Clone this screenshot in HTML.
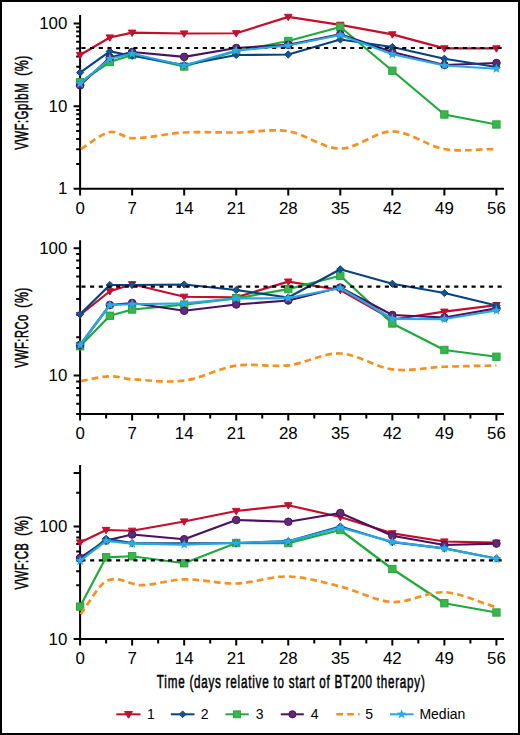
<!DOCTYPE html><html><head><meta charset="utf-8"><style>html,body{margin:0;padding:0;background:#fff}svg{display:block}text{font-family:"Liberation Sans",sans-serif}</style></head><body>
<svg width="520" height="735" viewBox="0 0 520 735">
<rect x="0" y="0" width="520" height="735" fill="#fff"/>
<path d="M80.1,15.00 V195.40 M80.10,188.80 H504" stroke="#000" stroke-width="2" fill="none"/>
<path d="M73.6,188.80H80.1M73.6,106.15H80.1M73.6,23.50H80.1M76.2,163.92H80.1M76.2,149.37H80.1M76.2,139.04H80.1M76.2,131.03H80.1M76.2,124.49H80.1M76.2,118.95H80.1M76.2,114.16H80.1M76.2,109.93H80.1M76.2,81.27H80.1M76.2,66.72H80.1M76.2,56.39H80.1M76.2,48.38H80.1M76.2,41.84H80.1M76.2,36.30H80.1M76.2,31.51H80.1M76.2,27.28H80.1M132.14,188.80V195.40M184.18,188.80V195.40M236.22,188.80V195.40M288.26,188.80V195.40M340.30,188.80V195.40M392.34,188.80V195.40M444.38,188.80V195.40M496.42,188.80V195.40" stroke="#000" stroke-width="2" fill="none"/>
<text transform="translate(67.3 194.40) scale(0.2700 0.2500)" font-size="62.4" text-anchor="end">1</text>
<text transform="translate(67.3 111.75) scale(0.2700 0.2500)" font-size="62.4" text-anchor="end">10</text>
<text transform="translate(67.3 29.10) scale(0.2700 0.2500)" font-size="62.4" text-anchor="end">100</text>
<text transform="translate(80.10 214.10) scale(0.2700 0.2500)" font-size="62.4" text-anchor="middle">0</text>
<text transform="translate(132.14 214.10) scale(0.2700 0.2500)" font-size="62.4" text-anchor="middle">7</text>
<text transform="translate(184.18 214.10) scale(0.2700 0.2500)" font-size="62.4" text-anchor="middle">14</text>
<text transform="translate(236.22 214.10) scale(0.2700 0.2500)" font-size="62.4" text-anchor="middle">21</text>
<text transform="translate(288.26 214.10) scale(0.2700 0.2500)" font-size="62.4" text-anchor="middle">28</text>
<text transform="translate(340.30 214.10) scale(0.2700 0.2500)" font-size="62.4" text-anchor="middle">35</text>
<text transform="translate(392.34 214.10) scale(0.2700 0.2500)" font-size="62.4" text-anchor="middle">42</text>
<text transform="translate(444.38 214.10) scale(0.2700 0.2500)" font-size="62.4" text-anchor="middle">49</text>
<text transform="translate(496.42 214.10) scale(0.2700 0.2500)" font-size="62.4" text-anchor="middle">56</text>
<text transform="translate(28.20 149.80) rotate(-90)" font-size="18.5" letter-spacing="0.8" textLength="66.90" lengthAdjust="spacingAndGlyphs" stroke="#000" stroke-width="0.55">VWF:GpIbM</text>
<text transform="translate(28.20 75.80) rotate(-90)" font-size="18.5" letter-spacing="0.8" textLength="20.60" lengthAdjust="spacingAndGlyphs" stroke="#000" stroke-width="0.55">(%)</text>
<polyline points="80.10,55.00 109.84,37.50 132.14,32.70 184.18,33.50 236.22,33.25 288.26,16.90 340.30,24.80 392.34,34.40 444.38,48.40 496.42,48.40" stroke="#C50C2B" stroke-width="2.2" fill="none" stroke-linejoin="round"/>
<path d="M76.36,52.40 L83.83,52.40 L80.10,58.77 Z" fill="#C8102E" stroke="#C50C2B" stroke-width="1.00" stroke-linejoin="miter"/>
<path d="M106.10,34.90 L113.57,34.90 L109.84,41.27 Z" fill="#C8102E" stroke="#C50C2B" stroke-width="1.00" stroke-linejoin="miter"/>
<path d="M128.40,30.10 L135.88,30.10 L132.14,36.47 Z" fill="#C8102E" stroke="#C50C2B" stroke-width="1.00" stroke-linejoin="miter"/>
<path d="M180.44,30.90 L187.92,30.90 L184.18,37.27 Z" fill="#C8102E" stroke="#C50C2B" stroke-width="1.00" stroke-linejoin="miter"/>
<path d="M232.48,30.65 L239.96,30.65 L236.22,37.02 Z" fill="#C8102E" stroke="#C50C2B" stroke-width="1.00" stroke-linejoin="miter"/>
<path d="M284.52,14.30 L292.00,14.30 L288.26,20.67 Z" fill="#C8102E" stroke="#C50C2B" stroke-width="1.00" stroke-linejoin="miter"/>
<path d="M336.56,22.20 L344.03,22.20 L340.30,28.57 Z" fill="#C8102E" stroke="#C50C2B" stroke-width="1.00" stroke-linejoin="miter"/>
<path d="M388.61,31.80 L396.08,31.80 L392.34,38.17 Z" fill="#C8102E" stroke="#C50C2B" stroke-width="1.00" stroke-linejoin="miter"/>
<path d="M440.64,45.80 L448.12,45.80 L444.38,52.17 Z" fill="#C8102E" stroke="#C50C2B" stroke-width="1.00" stroke-linejoin="miter"/>
<path d="M492.68,45.80 L500.15,45.80 L496.42,52.17 Z" fill="#C8102E" stroke="#C50C2B" stroke-width="1.00" stroke-linejoin="miter"/>
<polyline points="80.10,82.30 109.84,62.00 132.14,55.00 184.18,66.50 236.22,51.25 288.26,41.00 340.30,27.00 392.34,70.75 444.38,114.50 496.42,124.50" stroke="#1EAA3B" stroke-width="2.2" fill="none" stroke-linejoin="round"/>
<rect x="76.45" y="78.65" width="7.30" height="7.30" fill="#3DB34D" stroke="#1EAA3B" stroke-width="1.00" stroke-linejoin="miter"/>
<rect x="106.19" y="58.35" width="7.30" height="7.30" fill="#3DB34D" stroke="#1EAA3B" stroke-width="1.00" stroke-linejoin="miter"/>
<rect x="128.49" y="51.35" width="7.30" height="7.30" fill="#3DB34D" stroke="#1EAA3B" stroke-width="1.00" stroke-linejoin="miter"/>
<rect x="180.53" y="62.85" width="7.30" height="7.30" fill="#3DB34D" stroke="#1EAA3B" stroke-width="1.00" stroke-linejoin="miter"/>
<rect x="232.57" y="47.60" width="7.30" height="7.30" fill="#3DB34D" stroke="#1EAA3B" stroke-width="1.00" stroke-linejoin="miter"/>
<rect x="284.61" y="37.35" width="7.30" height="7.30" fill="#3DB34D" stroke="#1EAA3B" stroke-width="1.00" stroke-linejoin="miter"/>
<rect x="336.65" y="23.35" width="7.30" height="7.30" fill="#3DB34D" stroke="#1EAA3B" stroke-width="1.00" stroke-linejoin="miter"/>
<rect x="388.69" y="67.10" width="7.30" height="7.30" fill="#3DB34D" stroke="#1EAA3B" stroke-width="1.00" stroke-linejoin="miter"/>
<rect x="440.73" y="110.85" width="7.30" height="7.30" fill="#3DB34D" stroke="#1EAA3B" stroke-width="1.00" stroke-linejoin="miter"/>
<rect x="492.77" y="120.85" width="7.30" height="7.30" fill="#3DB34D" stroke="#1EAA3B" stroke-width="1.00" stroke-linejoin="miter"/>
<polyline points="80.10,85.30 109.84,57.50 132.14,52.00 184.18,56.90 236.22,48.00 288.26,44.80 340.30,34.25 392.34,52.00 444.38,65.00 496.42,63.00" stroke="#4C1061" stroke-width="2.2" fill="none" stroke-linejoin="round"/>
<circle cx="80.10" cy="85.30" r="3.80" fill="#5E2B74" stroke="#4C1061" stroke-width="1.00" stroke-linejoin="miter"/>
<circle cx="109.84" cy="57.50" r="3.80" fill="#5E2B74" stroke="#4C1061" stroke-width="1.00" stroke-linejoin="miter"/>
<circle cx="132.14" cy="52.00" r="3.80" fill="#5E2B74" stroke="#4C1061" stroke-width="1.00" stroke-linejoin="miter"/>
<circle cx="184.18" cy="56.90" r="3.80" fill="#5E2B74" stroke="#4C1061" stroke-width="1.00" stroke-linejoin="miter"/>
<circle cx="236.22" cy="48.00" r="3.80" fill="#5E2B74" stroke="#4C1061" stroke-width="1.00" stroke-linejoin="miter"/>
<circle cx="288.26" cy="44.80" r="3.80" fill="#5E2B74" stroke="#4C1061" stroke-width="1.00" stroke-linejoin="miter"/>
<circle cx="340.30" cy="34.25" r="3.80" fill="#5E2B74" stroke="#4C1061" stroke-width="1.00" stroke-linejoin="miter"/>
<circle cx="392.34" cy="52.00" r="3.80" fill="#5E2B74" stroke="#4C1061" stroke-width="1.00" stroke-linejoin="miter"/>
<circle cx="444.38" cy="65.00" r="3.80" fill="#5E2B74" stroke="#4C1061" stroke-width="1.00" stroke-linejoin="miter"/>
<circle cx="496.42" cy="63.00" r="3.80" fill="#5E2B74" stroke="#4C1061" stroke-width="1.00" stroke-linejoin="miter"/>
<polyline points="80.10,72.60 109.84,51.40 132.14,55.75 184.18,65.00 236.22,55.00 288.26,54.50 340.30,39.50 392.34,47.00 444.38,58.75 496.42,67.00" stroke="#06437F" stroke-width="2.2" fill="none" stroke-linejoin="round"/>
<path d="M80.10,69.00 L83.69,72.60 L80.10,76.19 L76.50,72.60 Z" fill="#175391" stroke="#06437F" stroke-width="1.00" stroke-linejoin="miter"/>
<path d="M109.84,47.80 L113.43,51.40 L109.84,54.99 L106.24,51.40 Z" fill="#175391" stroke="#06437F" stroke-width="1.00" stroke-linejoin="miter"/>
<path d="M132.14,52.16 L135.73,55.75 L132.14,59.34 L128.54,55.75 Z" fill="#175391" stroke="#06437F" stroke-width="1.00" stroke-linejoin="miter"/>
<path d="M184.18,61.41 L187.78,65.00 L184.18,68.59 L180.59,65.00 Z" fill="#175391" stroke="#06437F" stroke-width="1.00" stroke-linejoin="miter"/>
<path d="M236.22,51.41 L239.81,55.00 L236.22,58.59 L232.62,55.00 Z" fill="#175391" stroke="#06437F" stroke-width="1.00" stroke-linejoin="miter"/>
<path d="M288.26,50.91 L291.86,54.50 L288.26,58.09 L284.66,54.50 Z" fill="#175391" stroke="#06437F" stroke-width="1.00" stroke-linejoin="miter"/>
<path d="M340.30,35.91 L343.89,39.50 L340.30,43.09 L336.70,39.50 Z" fill="#175391" stroke="#06437F" stroke-width="1.00" stroke-linejoin="miter"/>
<path d="M392.34,43.41 L395.94,47.00 L392.34,50.59 L388.75,47.00 Z" fill="#175391" stroke="#06437F" stroke-width="1.00" stroke-linejoin="miter"/>
<path d="M444.38,55.16 L447.98,58.75 L444.38,62.34 L440.78,58.75 Z" fill="#175391" stroke="#06437F" stroke-width="1.00" stroke-linejoin="miter"/>
<path d="M496.42,63.41 L500.01,67.00 L496.42,70.59 L492.82,67.00 Z" fill="#175391" stroke="#06437F" stroke-width="1.00" stroke-linejoin="miter"/>
<path d="M80.10,149.50 C90.01,143.67 99.92,134.14 109.84,132.00 C117.27,130.39 124.71,138.20 132.14,138.25 C149.49,138.37 166.83,133.46 184.18,132.50 C201.53,131.54 218.87,132.71 236.22,132.50 C253.57,132.29 270.91,128.57 288.26,131.25 C305.61,133.93 322.95,148.57 340.30,148.60 C357.65,148.62 374.99,131.33 392.34,131.40 C409.69,131.47 427.03,146.07 444.38,149.00 C461.73,151.93 479.07,149.00 496.42,149.00" stroke="#F7901E" stroke-width="2.7" stroke-dasharray="6.72 4.09" stroke-dashoffset="-1" fill="none"/>
<path d="M81.4,47.98 H502" stroke="#000" stroke-width="2.2" stroke-dasharray="4.1 4.57" fill="none"/>
<polyline points="80.10,83.60 109.84,58.75 132.14,53.75 184.18,65.50 236.22,50.50 288.26,45.50 340.30,35.00 392.34,54.25 444.38,65.50 496.42,68.75" stroke="#27A8E1" stroke-width="2.25" fill="none" stroke-linejoin="round"/>
<polygon points="80.10,78.45 81.37,81.85 85.00,82.01 82.16,84.27 83.13,87.77 80.10,85.76 77.07,87.77 78.04,84.27 75.20,82.01 78.83,81.85" fill="#2AABE3"/>
<polygon points="109.84,53.60 111.11,57.00 114.74,57.16 111.89,59.42 112.86,62.92 109.84,60.91 106.81,62.92 107.78,59.42 104.94,57.16 108.57,57.00" fill="#2AABE3"/>
<polygon points="132.14,48.60 133.41,52.00 137.04,52.16 134.20,54.42 135.17,57.92 132.14,55.91 129.11,57.92 130.08,54.42 127.24,52.16 130.87,52.00" fill="#2AABE3"/>
<polygon points="184.18,60.35 185.45,63.75 189.08,63.91 186.24,66.17 187.21,69.67 184.18,67.66 181.15,69.67 182.12,66.17 179.28,63.91 182.91,63.75" fill="#2AABE3"/>
<polygon points="236.22,45.35 237.49,48.75 241.12,48.91 238.28,51.17 239.25,54.67 236.22,52.66 233.19,54.67 234.16,51.17 231.32,48.91 234.95,48.75" fill="#2AABE3"/>
<polygon points="288.26,40.35 289.53,43.75 293.16,43.91 290.32,46.17 291.29,49.67 288.26,47.66 285.23,49.67 286.20,46.17 283.36,43.91 286.99,43.75" fill="#2AABE3"/>
<polygon points="340.30,29.85 341.57,33.25 345.20,33.41 342.36,35.67 343.33,39.17 340.30,37.16 337.27,39.17 338.24,35.67 335.40,33.41 339.03,33.25" fill="#2AABE3"/>
<polygon points="392.34,49.10 393.61,52.50 397.24,52.66 394.40,54.92 395.37,58.42 392.34,56.41 389.31,58.42 390.28,54.92 387.44,52.66 391.07,52.50" fill="#2AABE3"/>
<polygon points="444.38,60.35 445.65,63.75 449.28,63.91 446.44,66.17 447.41,69.67 444.38,67.66 441.35,69.67 442.32,66.17 439.48,63.91 443.11,63.75" fill="#2AABE3"/>
<polygon points="496.42,63.60 497.69,67.00 501.32,67.16 498.48,69.42 499.45,72.92 496.42,70.91 493.39,72.92 494.36,69.42 491.52,67.16 495.15,67.00" fill="#2AABE3"/>
<path d="M80.1,240.20 V420.55 M80.10,413.95 H504" stroke="#000" stroke-width="2" fill="none"/>
<path d="M73.6,375.60H80.1M73.6,248.20H80.1M76.2,413.95H80.1M76.2,403.86H80.1M76.2,395.33H80.1M76.2,387.95H80.1M76.2,381.43H80.1M76.2,337.25H80.1M76.2,314.81H80.1M76.2,298.90H80.1M76.2,286.55H80.1M76.2,276.46H80.1M76.2,267.93H80.1M76.2,260.55H80.1M76.2,254.03H80.1M132.14,413.95V420.55M184.18,413.95V420.55M236.22,413.95V420.55M288.26,413.95V420.55M340.30,413.95V420.55M392.34,413.95V420.55M444.38,413.95V420.55M496.42,413.95V420.55M106.12,413.95V418.55M158.16,413.95V418.55M210.20,413.95V418.55M262.24,413.95V418.55M314.28,413.95V418.55M366.32,413.95V418.55M418.36,413.95V418.55M470.40,413.95V418.55" stroke="#000" stroke-width="2" fill="none"/>
<text transform="translate(67.3 381.20) scale(0.2700 0.2500)" font-size="62.4" text-anchor="end">10</text>
<text transform="translate(67.3 253.80) scale(0.2700 0.2500)" font-size="62.4" text-anchor="end">100</text>
<text transform="translate(80.10 439.25) scale(0.2700 0.2500)" font-size="62.4" text-anchor="middle">0</text>
<text transform="translate(132.14 439.25) scale(0.2700 0.2500)" font-size="62.4" text-anchor="middle">7</text>
<text transform="translate(184.18 439.25) scale(0.2700 0.2500)" font-size="62.4" text-anchor="middle">14</text>
<text transform="translate(236.22 439.25) scale(0.2700 0.2500)" font-size="62.4" text-anchor="middle">21</text>
<text transform="translate(288.26 439.25) scale(0.2700 0.2500)" font-size="62.4" text-anchor="middle">28</text>
<text transform="translate(340.30 439.25) scale(0.2700 0.2500)" font-size="62.4" text-anchor="middle">35</text>
<text transform="translate(392.34 439.25) scale(0.2700 0.2500)" font-size="62.4" text-anchor="middle">42</text>
<text transform="translate(444.38 439.25) scale(0.2700 0.2500)" font-size="62.4" text-anchor="middle">49</text>
<text transform="translate(496.42 439.25) scale(0.2700 0.2500)" font-size="62.4" text-anchor="middle">56</text>
<text transform="translate(28.20 367.80) rotate(-90)" font-size="18.5" letter-spacing="0.8" textLength="53.40" lengthAdjust="spacingAndGlyphs" stroke="#000" stroke-width="0.55">VWF:RCo</text>
<text transform="translate(28.20 307.70) rotate(-90)" font-size="18.5" letter-spacing="0.8" textLength="20.60" lengthAdjust="spacingAndGlyphs" stroke="#000" stroke-width="0.55">(%)</text>
<polyline points="80.10,315.00 109.84,291.25 132.14,284.25 184.18,296.75 236.22,297.30 288.26,281.60 340.30,290.00 392.34,319.50 444.38,311.70 496.42,305.10" stroke="#C50C2B" stroke-width="2.2" fill="none" stroke-linejoin="round"/>
<path d="M76.36,312.40 L83.83,312.40 L80.10,318.77 Z" fill="#C8102E" stroke="#C50C2B" stroke-width="1.00" stroke-linejoin="miter"/>
<path d="M106.10,288.65 L113.57,288.65 L109.84,295.02 Z" fill="#C8102E" stroke="#C50C2B" stroke-width="1.00" stroke-linejoin="miter"/>
<path d="M128.40,281.65 L135.88,281.65 L132.14,288.02 Z" fill="#C8102E" stroke="#C50C2B" stroke-width="1.00" stroke-linejoin="miter"/>
<path d="M180.44,294.15 L187.92,294.15 L184.18,300.52 Z" fill="#C8102E" stroke="#C50C2B" stroke-width="1.00" stroke-linejoin="miter"/>
<path d="M232.48,294.70 L239.96,294.70 L236.22,301.07 Z" fill="#C8102E" stroke="#C50C2B" stroke-width="1.00" stroke-linejoin="miter"/>
<path d="M284.52,279.00 L292.00,279.00 L288.26,285.37 Z" fill="#C8102E" stroke="#C50C2B" stroke-width="1.00" stroke-linejoin="miter"/>
<path d="M336.56,287.40 L344.03,287.40 L340.30,293.77 Z" fill="#C8102E" stroke="#C50C2B" stroke-width="1.00" stroke-linejoin="miter"/>
<path d="M388.61,316.90 L396.08,316.90 L392.34,323.27 Z" fill="#C8102E" stroke="#C50C2B" stroke-width="1.00" stroke-linejoin="miter"/>
<path d="M440.64,309.10 L448.12,309.10 L444.38,315.47 Z" fill="#C8102E" stroke="#C50C2B" stroke-width="1.00" stroke-linejoin="miter"/>
<path d="M492.68,302.50 L500.15,302.50 L496.42,308.87 Z" fill="#C8102E" stroke="#C50C2B" stroke-width="1.00" stroke-linejoin="miter"/>
<polyline points="80.10,346.25 109.84,315.75 132.14,309.50 184.18,304.60 236.22,298.40 288.26,289.10 340.30,275.75 392.34,323.50 444.38,350.00 496.42,356.75" stroke="#1EAA3B" stroke-width="2.2" fill="none" stroke-linejoin="round"/>
<rect x="76.45" y="342.60" width="7.30" height="7.30" fill="#3DB34D" stroke="#1EAA3B" stroke-width="1.00" stroke-linejoin="miter"/>
<rect x="106.19" y="312.10" width="7.30" height="7.30" fill="#3DB34D" stroke="#1EAA3B" stroke-width="1.00" stroke-linejoin="miter"/>
<rect x="128.49" y="305.85" width="7.30" height="7.30" fill="#3DB34D" stroke="#1EAA3B" stroke-width="1.00" stroke-linejoin="miter"/>
<rect x="180.53" y="300.95" width="7.30" height="7.30" fill="#3DB34D" stroke="#1EAA3B" stroke-width="1.00" stroke-linejoin="miter"/>
<rect x="232.57" y="294.75" width="7.30" height="7.30" fill="#3DB34D" stroke="#1EAA3B" stroke-width="1.00" stroke-linejoin="miter"/>
<rect x="284.61" y="285.45" width="7.30" height="7.30" fill="#3DB34D" stroke="#1EAA3B" stroke-width="1.00" stroke-linejoin="miter"/>
<rect x="336.65" y="272.10" width="7.30" height="7.30" fill="#3DB34D" stroke="#1EAA3B" stroke-width="1.00" stroke-linejoin="miter"/>
<rect x="388.69" y="319.85" width="7.30" height="7.30" fill="#3DB34D" stroke="#1EAA3B" stroke-width="1.00" stroke-linejoin="miter"/>
<rect x="440.73" y="346.35" width="7.30" height="7.30" fill="#3DB34D" stroke="#1EAA3B" stroke-width="1.00" stroke-linejoin="miter"/>
<rect x="492.77" y="353.10" width="7.30" height="7.30" fill="#3DB34D" stroke="#1EAA3B" stroke-width="1.00" stroke-linejoin="miter"/>
<polyline points="80.10,345.00 109.84,305.00 132.14,303.00 184.18,310.75 236.22,304.50 288.26,300.50 340.30,287.50 392.34,315.00 444.38,317.50 496.42,308.30" stroke="#4C1061" stroke-width="2.2" fill="none" stroke-linejoin="round"/>
<circle cx="80.10" cy="345.00" r="3.80" fill="#5E2B74" stroke="#4C1061" stroke-width="1.00" stroke-linejoin="miter"/>
<circle cx="109.84" cy="305.00" r="3.80" fill="#5E2B74" stroke="#4C1061" stroke-width="1.00" stroke-linejoin="miter"/>
<circle cx="132.14" cy="303.00" r="3.80" fill="#5E2B74" stroke="#4C1061" stroke-width="1.00" stroke-linejoin="miter"/>
<circle cx="184.18" cy="310.75" r="3.80" fill="#5E2B74" stroke="#4C1061" stroke-width="1.00" stroke-linejoin="miter"/>
<circle cx="236.22" cy="304.50" r="3.80" fill="#5E2B74" stroke="#4C1061" stroke-width="1.00" stroke-linejoin="miter"/>
<circle cx="288.26" cy="300.50" r="3.80" fill="#5E2B74" stroke="#4C1061" stroke-width="1.00" stroke-linejoin="miter"/>
<circle cx="340.30" cy="287.50" r="3.80" fill="#5E2B74" stroke="#4C1061" stroke-width="1.00" stroke-linejoin="miter"/>
<circle cx="392.34" cy="315.00" r="3.80" fill="#5E2B74" stroke="#4C1061" stroke-width="1.00" stroke-linejoin="miter"/>
<circle cx="444.38" cy="317.50" r="3.80" fill="#5E2B74" stroke="#4C1061" stroke-width="1.00" stroke-linejoin="miter"/>
<circle cx="496.42" cy="308.30" r="3.80" fill="#5E2B74" stroke="#4C1061" stroke-width="1.00" stroke-linejoin="miter"/>
<polyline points="80.10,314.25 109.84,285.00 132.14,285.00 184.18,284.50 236.22,290.00 288.26,297.50 340.30,269.25 392.34,283.75 444.38,293.00 496.42,305.50" stroke="#06437F" stroke-width="2.2" fill="none" stroke-linejoin="round"/>
<path d="M80.10,310.65 L83.69,314.25 L80.10,317.85 L76.50,314.25 Z" fill="#175391" stroke="#06437F" stroke-width="1.00" stroke-linejoin="miter"/>
<path d="M109.84,281.40 L113.43,285.00 L109.84,288.60 L106.24,285.00 Z" fill="#175391" stroke="#06437F" stroke-width="1.00" stroke-linejoin="miter"/>
<path d="M132.14,281.40 L135.73,285.00 L132.14,288.60 L128.54,285.00 Z" fill="#175391" stroke="#06437F" stroke-width="1.00" stroke-linejoin="miter"/>
<path d="M184.18,280.90 L187.78,284.50 L184.18,288.10 L180.59,284.50 Z" fill="#175391" stroke="#06437F" stroke-width="1.00" stroke-linejoin="miter"/>
<path d="M236.22,286.40 L239.81,290.00 L236.22,293.60 L232.62,290.00 Z" fill="#175391" stroke="#06437F" stroke-width="1.00" stroke-linejoin="miter"/>
<path d="M288.26,293.90 L291.86,297.50 L288.26,301.10 L284.66,297.50 Z" fill="#175391" stroke="#06437F" stroke-width="1.00" stroke-linejoin="miter"/>
<path d="M340.30,265.65 L343.89,269.25 L340.30,272.85 L336.70,269.25 Z" fill="#175391" stroke="#06437F" stroke-width="1.00" stroke-linejoin="miter"/>
<path d="M392.34,280.15 L395.94,283.75 L392.34,287.35 L388.75,283.75 Z" fill="#175391" stroke="#06437F" stroke-width="1.00" stroke-linejoin="miter"/>
<path d="M444.38,289.40 L447.98,293.00 L444.38,296.60 L440.78,293.00 Z" fill="#175391" stroke="#06437F" stroke-width="1.00" stroke-linejoin="miter"/>
<path d="M496.42,301.90 L500.01,305.50 L496.42,309.10 L492.82,305.50 Z" fill="#175391" stroke="#06437F" stroke-width="1.00" stroke-linejoin="miter"/>
<path d="M80.10,381.25 C90.01,379.58 99.92,376.62 109.84,376.25 C117.27,375.97 124.71,378.87 132.14,379.30 C149.49,380.31 166.83,382.88 184.18,380.60 C201.53,378.32 218.87,368.15 236.22,365.60 C253.57,363.05 270.91,367.32 288.26,365.30 C305.61,363.28 322.95,352.82 340.30,353.50 C357.65,354.18 374.99,367.19 392.34,369.40 C409.69,371.61 427.03,367.40 444.38,366.75 C461.73,366.10 479.07,365.92 496.42,365.50" stroke="#F7901E" stroke-width="2.7" stroke-dasharray="6.72 4.09" stroke-dashoffset="-1" fill="none"/>
<path d="M81.4,286.55 H502" stroke="#000" stroke-width="2.2" stroke-dasharray="4.1 4.57" fill="none"/>
<polyline points="80.10,345.00 109.84,305.00 132.14,304.25 184.18,303.40 236.22,298.40 288.26,298.10 340.30,288.00 392.34,318.75 444.38,319.00 496.42,310.50" stroke="#27A8E1" stroke-width="2.25" fill="none" stroke-linejoin="round"/>
<polygon points="80.10,339.85 81.37,343.25 85.00,343.41 82.16,345.67 83.13,349.17 80.10,347.16 77.07,349.17 78.04,345.67 75.20,343.41 78.83,343.25" fill="#2AABE3"/>
<polygon points="109.84,299.85 111.11,303.25 114.74,303.41 111.89,305.67 112.86,309.17 109.84,307.16 106.81,309.17 107.78,305.67 104.94,303.41 108.57,303.25" fill="#2AABE3"/>
<polygon points="132.14,299.10 133.41,302.50 137.04,302.66 134.20,304.92 135.17,308.42 132.14,306.41 129.11,308.42 130.08,304.92 127.24,302.66 130.87,302.50" fill="#2AABE3"/>
<polygon points="184.18,298.25 185.45,301.65 189.08,301.81 186.24,304.07 187.21,307.57 184.18,305.56 181.15,307.57 182.12,304.07 179.28,301.81 182.91,301.65" fill="#2AABE3"/>
<polygon points="236.22,293.25 237.49,296.65 241.12,296.81 238.28,299.07 239.25,302.57 236.22,300.56 233.19,302.57 234.16,299.07 231.32,296.81 234.95,296.65" fill="#2AABE3"/>
<polygon points="288.26,292.95 289.53,296.35 293.16,296.51 290.32,298.77 291.29,302.27 288.26,300.26 285.23,302.27 286.20,298.77 283.36,296.51 286.99,296.35" fill="#2AABE3"/>
<polygon points="340.30,282.85 341.57,286.25 345.20,286.41 342.36,288.67 343.33,292.17 340.30,290.16 337.27,292.17 338.24,288.67 335.40,286.41 339.03,286.25" fill="#2AABE3"/>
<polygon points="392.34,313.60 393.61,317.00 397.24,317.16 394.40,319.42 395.37,322.92 392.34,320.91 389.31,322.92 390.28,319.42 387.44,317.16 391.07,317.00" fill="#2AABE3"/>
<polygon points="444.38,313.85 445.65,317.25 449.28,317.41 446.44,319.67 447.41,323.17 444.38,321.16 441.35,323.17 442.32,319.67 439.48,317.41 443.11,317.25" fill="#2AABE3"/>
<polygon points="496.42,305.35 497.69,308.75 501.32,308.91 498.48,311.17 499.45,314.67 496.42,312.66 493.39,314.67 494.36,311.17 491.52,308.91 495.15,308.75" fill="#2AABE3"/>
<path d="M80.1,465.00 V645.50 M80.10,638.90 H504" stroke="#000" stroke-width="2" fill="none"/>
<path d="M73.6,638.90H80.1M73.6,526.60H80.1M73.6,473.02H80.1M76.2,605.09H80.1M76.2,585.32H80.1M76.2,571.29H80.1M76.2,560.41H80.1M76.2,551.51H80.1M76.2,544.00H80.1M76.2,537.48H80.1M76.2,531.74H80.1M76.2,492.79H80.1M132.14,638.90V645.50M184.18,638.90V645.50M236.22,638.90V645.50M288.26,638.90V645.50M340.30,638.90V645.50M392.34,638.90V645.50M444.38,638.90V645.50M496.42,638.90V645.50M106.12,638.90V643.50M158.16,638.90V643.50M210.20,638.90V643.50M262.24,638.90V643.50M314.28,638.90V643.50M366.32,638.90V643.50M418.36,638.90V643.50M470.40,638.90V643.50" stroke="#000" stroke-width="2" fill="none"/>
<text transform="translate(67.3 644.50) scale(0.2700 0.2500)" font-size="62.4" text-anchor="end">10</text>
<text transform="translate(67.3 532.20) scale(0.2700 0.2500)" font-size="62.4" text-anchor="end">100</text>
<text transform="translate(80.10 664.20) scale(0.2700 0.2500)" font-size="62.4" text-anchor="middle">0</text>
<text transform="translate(132.14 664.20) scale(0.2700 0.2500)" font-size="62.4" text-anchor="middle">7</text>
<text transform="translate(184.18 664.20) scale(0.2700 0.2500)" font-size="62.4" text-anchor="middle">14</text>
<text transform="translate(236.22 664.20) scale(0.2700 0.2500)" font-size="62.4" text-anchor="middle">21</text>
<text transform="translate(288.26 664.20) scale(0.2700 0.2500)" font-size="62.4" text-anchor="middle">28</text>
<text transform="translate(340.30 664.20) scale(0.2700 0.2500)" font-size="62.4" text-anchor="middle">35</text>
<text transform="translate(392.34 664.20) scale(0.2700 0.2500)" font-size="62.4" text-anchor="middle">42</text>
<text transform="translate(444.38 664.20) scale(0.2700 0.2500)" font-size="62.4" text-anchor="middle">49</text>
<text transform="translate(496.42 664.20) scale(0.2700 0.2500)" font-size="62.4" text-anchor="middle">56</text>
<text transform="translate(28.20 589.60) rotate(-90)" font-size="18.5" letter-spacing="0.8" textLength="47.00" lengthAdjust="spacingAndGlyphs" stroke="#000" stroke-width="0.55">VWF:CB</text>
<text transform="translate(28.20 535.80) rotate(-90)" font-size="18.5" letter-spacing="0.8" textLength="20.60" lengthAdjust="spacingAndGlyphs" stroke="#000" stroke-width="0.55">(%)</text>
<polyline points="80.10,542.50 106.12,530.00 132.14,530.75 184.18,521.50 236.22,511.00 288.26,505.30 340.30,517.00 392.34,533.30 444.38,541.50 496.42,542.60" stroke="#C50C2B" stroke-width="2.2" fill="none" stroke-linejoin="round"/>
<path d="M76.36,539.90 L83.83,539.90 L80.10,546.27 Z" fill="#C8102E" stroke="#C50C2B" stroke-width="1.00" stroke-linejoin="miter"/>
<path d="M102.38,527.40 L109.85,527.40 L106.12,533.77 Z" fill="#C8102E" stroke="#C50C2B" stroke-width="1.00" stroke-linejoin="miter"/>
<path d="M128.40,528.15 L135.88,528.15 L132.14,534.52 Z" fill="#C8102E" stroke="#C50C2B" stroke-width="1.00" stroke-linejoin="miter"/>
<path d="M180.44,518.90 L187.92,518.90 L184.18,525.27 Z" fill="#C8102E" stroke="#C50C2B" stroke-width="1.00" stroke-linejoin="miter"/>
<path d="M232.48,508.40 L239.96,508.40 L236.22,514.77 Z" fill="#C8102E" stroke="#C50C2B" stroke-width="1.00" stroke-linejoin="miter"/>
<path d="M284.52,502.70 L292.00,502.70 L288.26,509.07 Z" fill="#C8102E" stroke="#C50C2B" stroke-width="1.00" stroke-linejoin="miter"/>
<path d="M336.56,514.40 L344.03,514.40 L340.30,520.77 Z" fill="#C8102E" stroke="#C50C2B" stroke-width="1.00" stroke-linejoin="miter"/>
<path d="M388.61,530.70 L396.08,530.70 L392.34,537.07 Z" fill="#C8102E" stroke="#C50C2B" stroke-width="1.00" stroke-linejoin="miter"/>
<path d="M440.64,538.90 L448.12,538.90 L444.38,545.27 Z" fill="#C8102E" stroke="#C50C2B" stroke-width="1.00" stroke-linejoin="miter"/>
<path d="M492.68,540.00 L500.15,540.00 L496.42,546.37 Z" fill="#C8102E" stroke="#C50C2B" stroke-width="1.00" stroke-linejoin="miter"/>
<polyline points="80.10,606.60 106.12,557.30 132.14,556.25 184.18,563.25 236.22,543.00 288.26,543.10 340.30,530.00 392.34,569.00 444.38,603.25 496.42,612.50" stroke="#1EAA3B" stroke-width="2.2" fill="none" stroke-linejoin="round"/>
<rect x="76.45" y="602.95" width="7.30" height="7.30" fill="#3DB34D" stroke="#1EAA3B" stroke-width="1.00" stroke-linejoin="miter"/>
<rect x="102.47" y="553.65" width="7.30" height="7.30" fill="#3DB34D" stroke="#1EAA3B" stroke-width="1.00" stroke-linejoin="miter"/>
<rect x="128.49" y="552.60" width="7.30" height="7.30" fill="#3DB34D" stroke="#1EAA3B" stroke-width="1.00" stroke-linejoin="miter"/>
<rect x="180.53" y="559.60" width="7.30" height="7.30" fill="#3DB34D" stroke="#1EAA3B" stroke-width="1.00" stroke-linejoin="miter"/>
<rect x="232.57" y="539.35" width="7.30" height="7.30" fill="#3DB34D" stroke="#1EAA3B" stroke-width="1.00" stroke-linejoin="miter"/>
<rect x="284.61" y="539.45" width="7.30" height="7.30" fill="#3DB34D" stroke="#1EAA3B" stroke-width="1.00" stroke-linejoin="miter"/>
<rect x="336.65" y="526.35" width="7.30" height="7.30" fill="#3DB34D" stroke="#1EAA3B" stroke-width="1.00" stroke-linejoin="miter"/>
<rect x="388.69" y="565.35" width="7.30" height="7.30" fill="#3DB34D" stroke="#1EAA3B" stroke-width="1.00" stroke-linejoin="miter"/>
<rect x="440.73" y="599.60" width="7.30" height="7.30" fill="#3DB34D" stroke="#1EAA3B" stroke-width="1.00" stroke-linejoin="miter"/>
<rect x="492.77" y="608.85" width="7.30" height="7.30" fill="#3DB34D" stroke="#1EAA3B" stroke-width="1.00" stroke-linejoin="miter"/>
<polyline points="80.10,558.00 106.12,540.50 132.14,534.50 184.18,539.25 236.22,520.00 288.26,521.75 340.30,513.00 392.34,535.75 444.38,545.00 496.42,543.60" stroke="#4C1061" stroke-width="2.2" fill="none" stroke-linejoin="round"/>
<circle cx="80.10" cy="558.00" r="3.80" fill="#5E2B74" stroke="#4C1061" stroke-width="1.00" stroke-linejoin="miter"/>
<circle cx="106.12" cy="540.50" r="3.80" fill="#5E2B74" stroke="#4C1061" stroke-width="1.00" stroke-linejoin="miter"/>
<circle cx="132.14" cy="534.50" r="3.80" fill="#5E2B74" stroke="#4C1061" stroke-width="1.00" stroke-linejoin="miter"/>
<circle cx="184.18" cy="539.25" r="3.80" fill="#5E2B74" stroke="#4C1061" stroke-width="1.00" stroke-linejoin="miter"/>
<circle cx="236.22" cy="520.00" r="3.80" fill="#5E2B74" stroke="#4C1061" stroke-width="1.00" stroke-linejoin="miter"/>
<circle cx="288.26" cy="521.75" r="3.80" fill="#5E2B74" stroke="#4C1061" stroke-width="1.00" stroke-linejoin="miter"/>
<circle cx="340.30" cy="513.00" r="3.80" fill="#5E2B74" stroke="#4C1061" stroke-width="1.00" stroke-linejoin="miter"/>
<circle cx="392.34" cy="535.75" r="3.80" fill="#5E2B74" stroke="#4C1061" stroke-width="1.00" stroke-linejoin="miter"/>
<circle cx="444.38" cy="545.00" r="3.80" fill="#5E2B74" stroke="#4C1061" stroke-width="1.00" stroke-linejoin="miter"/>
<circle cx="496.42" cy="543.60" r="3.80" fill="#5E2B74" stroke="#4C1061" stroke-width="1.00" stroke-linejoin="miter"/>
<polyline points="80.10,560.50 106.12,538.90 132.14,543.20 184.18,543.40 236.22,543.00 288.26,541.20 340.30,526.50 392.34,542.20 444.38,548.30 496.42,558.50" stroke="#06437F" stroke-width="2.2" fill="none" stroke-linejoin="round"/>
<path d="M80.10,556.90 L83.69,560.50 L80.10,564.10 L76.50,560.50 Z" fill="#175391" stroke="#06437F" stroke-width="1.00" stroke-linejoin="miter"/>
<path d="M106.12,535.30 L109.71,538.90 L106.12,542.50 L102.52,538.90 Z" fill="#175391" stroke="#06437F" stroke-width="1.00" stroke-linejoin="miter"/>
<path d="M132.14,539.61 L135.73,543.20 L132.14,546.80 L128.54,543.20 Z" fill="#175391" stroke="#06437F" stroke-width="1.00" stroke-linejoin="miter"/>
<path d="M184.18,539.80 L187.78,543.40 L184.18,547.00 L180.59,543.40 Z" fill="#175391" stroke="#06437F" stroke-width="1.00" stroke-linejoin="miter"/>
<path d="M236.22,539.40 L239.81,543.00 L236.22,546.60 L232.62,543.00 Z" fill="#175391" stroke="#06437F" stroke-width="1.00" stroke-linejoin="miter"/>
<path d="M288.26,537.61 L291.86,541.20 L288.26,544.80 L284.66,541.20 Z" fill="#175391" stroke="#06437F" stroke-width="1.00" stroke-linejoin="miter"/>
<path d="M340.30,522.90 L343.89,526.50 L340.30,530.10 L336.70,526.50 Z" fill="#175391" stroke="#06437F" stroke-width="1.00" stroke-linejoin="miter"/>
<path d="M392.34,538.61 L395.94,542.20 L392.34,545.80 L388.75,542.20 Z" fill="#175391" stroke="#06437F" stroke-width="1.00" stroke-linejoin="miter"/>
<path d="M444.38,544.70 L447.98,548.30 L444.38,551.89 L440.78,548.30 Z" fill="#175391" stroke="#06437F" stroke-width="1.00" stroke-linejoin="miter"/>
<path d="M496.42,554.90 L500.01,558.50 L496.42,562.10 L492.82,558.50 Z" fill="#175391" stroke="#06437F" stroke-width="1.00" stroke-linejoin="miter"/>
<path d="M80.10,615.00 C89.02,603.60 97.94,585.11 106.86,580.80 C118.51,575.18 130.16,585.43 141.80,585.20 C155.93,584.93 170.05,579.55 184.18,579.30 C201.53,578.99 218.87,583.97 236.22,583.50 C253.57,583.03 270.91,576.00 288.26,576.50 C305.61,577.00 322.95,582.25 340.30,586.50 C357.65,590.75 374.99,601.03 392.34,602.00 C409.69,602.97 427.03,591.42 444.38,592.30 C461.73,593.18 479.07,602.30 496.42,607.30" stroke="#F7901E" stroke-width="2.7" stroke-dasharray="6.72 4.09" stroke-dashoffset="-1" fill="none"/>
<path d="M81.4,560.41 H502" stroke="#000" stroke-width="2.2" stroke-dasharray="4.1 4.57" fill="none"/>
<polyline points="80.10,560.75 106.12,540.90 132.14,543.60 184.18,544.60 236.22,543.00 288.26,541.30 340.30,527.50 392.34,541.90 444.38,548.30 496.42,558.75" stroke="#27A8E1" stroke-width="2.25" fill="none" stroke-linejoin="round"/>
<polygon points="80.10,555.60 81.37,559.00 85.00,559.16 82.16,561.42 83.13,564.92 80.10,562.91 77.07,564.92 78.04,561.42 75.20,559.16 78.83,559.00" fill="#2AABE3"/>
<polygon points="106.12,535.75 107.39,539.15 111.02,539.31 108.18,541.57 109.15,545.07 106.12,543.06 103.09,545.07 104.06,541.57 101.22,539.31 104.85,539.15" fill="#2AABE3"/>
<polygon points="132.14,538.45 133.41,541.85 137.04,542.01 134.20,544.27 135.17,547.77 132.14,545.76 129.11,547.77 130.08,544.27 127.24,542.01 130.87,541.85" fill="#2AABE3"/>
<polygon points="184.18,539.45 185.45,542.85 189.08,543.01 186.24,545.27 187.21,548.77 184.18,546.76 181.15,548.77 182.12,545.27 179.28,543.01 182.91,542.85" fill="#2AABE3"/>
<polygon points="236.22,537.85 237.49,541.25 241.12,541.41 238.28,543.67 239.25,547.17 236.22,545.16 233.19,547.17 234.16,543.67 231.32,541.41 234.95,541.25" fill="#2AABE3"/>
<polygon points="288.26,536.15 289.53,539.55 293.16,539.71 290.32,541.97 291.29,545.47 288.26,543.46 285.23,545.47 286.20,541.97 283.36,539.71 286.99,539.55" fill="#2AABE3"/>
<polygon points="340.30,522.35 341.57,525.75 345.20,525.91 342.36,528.17 343.33,531.67 340.30,529.66 337.27,531.67 338.24,528.17 335.40,525.91 339.03,525.75" fill="#2AABE3"/>
<polygon points="392.34,536.75 393.61,540.15 397.24,540.31 394.40,542.57 395.37,546.07 392.34,544.06 389.31,546.07 390.28,542.57 387.44,540.31 391.07,540.15" fill="#2AABE3"/>
<polygon points="444.38,543.15 445.65,546.55 449.28,546.71 446.44,548.97 447.41,552.47 444.38,550.46 441.35,552.47 442.32,548.97 439.48,546.71 443.11,546.55" fill="#2AABE3"/>
<polygon points="496.42,553.60 497.69,557.00 501.32,557.16 498.48,559.42 499.45,562.92 496.42,560.91 493.39,562.92 494.36,559.42 491.52,557.16 495.15,557.00" fill="#2AABE3"/>
<text x="291.2" y="687.5" font-size="18" letter-spacing="1.2" text-anchor="middle" textLength="268.7" lengthAdjust="spacingAndGlyphs" stroke="#000" stroke-width="0.55">Time (days relative to start of BT200 therapy)</text>
<path d="M116.30,714.30H140.50" stroke="#C50C2B" stroke-width="2" fill="none"/>
<path d="M124.58,711.56 L132.42,711.56 L128.50,718.26 Z" fill="#C8102E" stroke="#C50C2B" stroke-width="1.00" stroke-linejoin="miter"/>
<text x="147.00" y="719.3" font-size="14">1</text>
<path d="M170.80,714.30H194.50" stroke="#06437F" stroke-width="2" fill="none"/>
<path d="M182.60,710.92 L185.98,714.30 L182.60,717.68 L179.22,714.30 Z" fill="#175391" stroke="#06437F" stroke-width="1.00" stroke-linejoin="miter"/>
<text x="200.80" y="719.3" font-size="14">2</text>
<path d="M225.50,714.30H248.80" stroke="#1EAA3B" stroke-width="2" fill="none"/>
<rect x="233.56" y="710.86" width="6.89" height="6.89" fill="#3DB34D" stroke="#1EAA3B" stroke-width="1.00" stroke-linejoin="miter"/>
<text x="255.80" y="719.3" font-size="14">3</text>
<path d="M280.80,714.30H303.80" stroke="#4C1061" stroke-width="2" fill="none"/>
<circle cx="292.40" cy="714.30" r="3.58" fill="#5E2B74" stroke="#4C1061" stroke-width="1.00" stroke-linejoin="miter"/>
<text x="310.80" y="719.3" font-size="14">4</text>
<path d="M336.30,714.30H359.60" stroke="#F7901E" stroke-width="2.5" stroke-dasharray="6.7 4.2" fill="none"/>
<text x="365.20" y="719.3" font-size="14">5</text>
<path d="M390.00,714.30H413.60" stroke="#27A8E1" stroke-width="2" fill="none"/>
<polygon points="401.60,709.15 402.87,712.55 406.50,712.71 403.66,714.97 404.63,718.47 401.60,716.46 398.57,718.47 399.54,714.97 396.70,712.71 400.33,712.55" fill="#2AABE3"/>
<text x="419.40" y="719.3" font-size="14">Median</text>
<rect x="1" y="1" width="518" height="733" fill="none" stroke="#000" stroke-width="2"/>
</svg></body></html>
